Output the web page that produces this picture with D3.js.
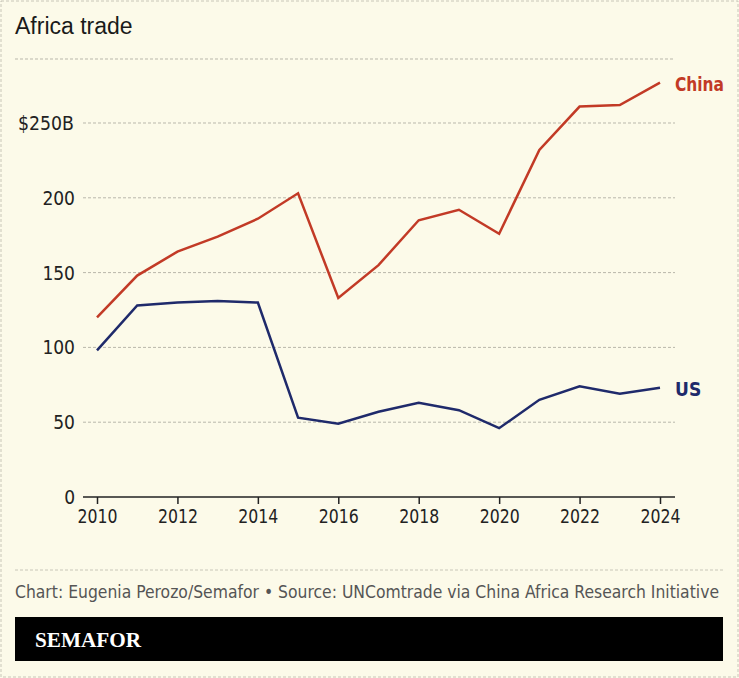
<!DOCTYPE html>
<html><head><meta charset="utf-8">
<script src="https://cdn.jsdelivr.net/npm/d3@7"></script>
<style>
body{margin:0;background:#fcfae9;}
svg{display:block;}
.cond{font-family:"Liberation Sans Narrow","DejaVu Sans Condensed","Roboto",sans-serif;font-stretch:condensed;}
</style></head><body>
<svg id="c" width="739" height="678"></svg>
<script>
const years = [2010,2011,2012,2013,2014,2015,2016,2017,2018,2019,2020,2021,2022,2023,2024];
const china = [120,148,164,174,186,203,133,155,185,192,176,232,261,262,277];
const us = [98,128,130,131,130,53,49,57,63,58,46,65,74,69,73];
const yTicks = [0,50,100,150,200,250];
const xTicks = [2010,2012,2014,2016,2018,2020,2022,2024];

const svg = d3.select("#c");
svg.append("rect").attr("x",1).attr("y",1).attr("width",737).attr("height",676)
  .attr("fill","#fcfae9").attr("stroke","#c8c6b8").attr("stroke-dasharray","3,2");
svg.append("text").attr("x",15).attr("y",34).text("Africa trade")
  .attr("font-family","Liberation Sans, Arial, sans-serif").attr("font-size",23).attr("fill","#1a1a1a");

const x = d3.scaleLinear().domain([2010,2024]).range([97,660]);
const y = d3.scaleLinear().domain([0,250]).range([497,123]);

svg.append("line").attr("x1",15).attr("x2",675).attr("y1",59).attr("y2",59)
  .attr("stroke","#b9b7ab").attr("stroke-dasharray","3,2");
const g = svg.append("g");
yTicks.filter(d=>d>0).forEach(d=>{
  g.append("line").attr("x1",83).attr("x2",675).attr("y1",y(d)).attr("y2",y(d))
   .attr("stroke","#b9b7ab").attr("stroke-dasharray","3,2");
});
yTicks.forEach(d=>{
  const t = g.append("text").attr("class","cond").attr("x",d===250?18:75).attr("y",y(d)+7)
   .attr("text-anchor",d===250?"start":"end").attr("font-size",19).attr("fill","#222")
   .text(d===250?"$250B":d);
  if(d===250) t.attr("textLength",56).attr("lengthAdjust","spacingAndGlyphs");
});
const xa = svg.append("g").attr("transform","translate(0,497)")
  .call(d3.axisBottom(x).tickValues(xTicks).tickFormat(d3.format("d")).tickSize(7).tickPadding(6).tickSizeOuter(0));
xa.select(".domain").attr("d","M83,0H675").attr("stroke","#222").attr("stroke-width",1.5);
xa.selectAll(".tick line").attr("stroke","#222").attr("stroke-width",1.5);
xa.selectAll("text").attr("class","cond").attr("font-size",19).attr("fill","#222")
  .attr("textLength",40).attr("lengthAdjust","spacingAndGlyphs");

const line = d3.line().x((d,i)=>x(years[i])).y(d=>y(d));
svg.append("path").datum(china).attr("d",line).attr("fill","none").attr("stroke","#c23a26").attr("stroke-width",2.5);
svg.append("path").datum(us).attr("d",line).attr("fill","none").attr("stroke","#1f2a6b").attr("stroke-width",2.5);
svg.append("text").attr("class","cond").attr("x",675).attr("y",y(china[14])+8).text("China")
  .attr("font-weight","bold").attr("font-size",19).attr("fill","#c23a26")
  .attr("textLength",49).attr("lengthAdjust","spacingAndGlyphs");
svg.append("text").attr("class","cond").attr("x",675).attr("y",y(us[14])+8).text("US")
  .attr("font-weight","bold").attr("font-size",19).attr("fill","#1f2a6b");

svg.append("line").attr("x1",15).attr("x2",725).attr("y1",570).attr("y2",570)
  .attr("stroke","#c8c6b8").attr("stroke-dasharray","3,2");
svg.append("text").attr("class","cond").attr("x",15).attr("y",598).attr("font-size",18).attr("fill","#555")
  .attr("textLength",704).attr("lengthAdjust","spacingAndGlyphs")
  .text("Chart: Eugenia Perozo/Semafor • Source: UNComtrade via China Africa Research Initiative");
svg.append("rect").attr("x",15).attr("y",617).attr("width",708).attr("height",44).attr("fill","#000");
svg.append("text").attr("x",35).attr("y",647).attr("font-family","Liberation Serif, serif").attr("font-weight","bold")
  .attr("font-size",21).attr("fill","#fff").attr("textLength",106).attr("lengthAdjust","spacingAndGlyphs").text("SEMAFOR");
</script></body></html>
